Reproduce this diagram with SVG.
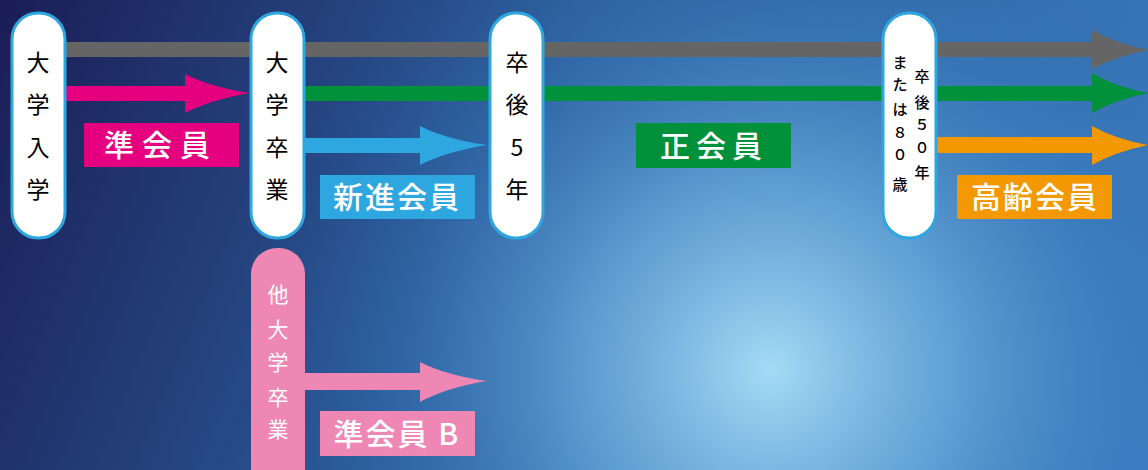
<svg xmlns="http://www.w3.org/2000/svg" width="1148" height="470" viewBox="0 0 1148 470">
<defs>
<linearGradient id="bgLin" x1="0" y1="0" x2="1148" y2="470" gradientUnits="userSpaceOnUse">
<stop offset="0" stop-color="#1b1d55"/>
<stop offset="0.45" stop-color="#2b5e9c"/>
<stop offset="1" stop-color="#3b7cbf"/>
</linearGradient>
<radialGradient id="bgRad" cx="770" cy="370" r="520" gradientUnits="userSpaceOnUse">
<stop offset="0" stop-color="#a4dbf5" stop-opacity="1"/>
<stop offset="0.35" stop-color="#6fb0e0" stop-opacity="0.75"/>
<stop offset="0.7" stop-color="#3f84c6" stop-opacity="0.3"/>
<stop offset="1" stop-color="#2e6aab" stop-opacity="0"/>
</radialGradient>
<style>
.pill{fill:#ffffff;stroke:#2ea7e0;stroke-width:3}
.pt{font-family:"Noto Sans CJK JP","Noto Sans",sans-serif;font-size:23px;font-weight:400;fill:#000000;text-anchor:middle}
.pts{font-family:"Noto Sans CJK JP","Noto Sans",sans-serif;font-size:15px;font-weight:500;fill:#000000;text-anchor:middle}
.lt{font-family:"Noto Sans CJK JP","Noto Sans",sans-serif;font-size:30px;font-weight:500;fill:#ffffff;text-anchor:middle}
</style>
</defs>
<rect width="1148" height="470" fill="url(#bgLin)"/>
<rect width="1148" height="470" fill="url(#bgRad)"/>

<g id="connectors">
<path d="M65,42 H1092 V30 Q1115,43 1148,50 Q1115,57 1092,69 V57 H65 Z" fill="#666565"/>
<path d="M65,86 H185 V74 Q210,87 250,93 Q210,100 185,113 V101 H65 Z" fill="#e4007f"/>
<path d="M304,86 H1092 V73 Q1115,87 1148,93 Q1115,100 1092,113 V101 H304 Z" fill="#00913a"/>
<path d="M304,138 H420 V126 Q445,139 487,145 Q445,152 420,165 V153 H304 Z" fill="#2ea7e0"/>
<path d="M936,137 H1092 V126 Q1115,139 1148,145 Q1115,152 1092,165 V153 H936 Z" fill="#f39800"/>
<path d="M305,373 H420 V362 Q445,375 487,381 Q445,388 420,402 V390 H305 Z" fill="#ee87b4"/>
</g>

<g id="node-nyugaku">
<rect class="pill" x="12" y="13" width="53" height="225" rx="26"/>
<text class="pt"><tspan x="38" y="71">大</tspan><tspan x="38" y="113">学</tspan><tspan x="38" y="156">入</tspan><tspan x="38" y="198">学</tspan></text>
</g>

<g id="node-sotsugyo">
<rect class="pill" x="251" y="13" width="53" height="225" rx="26"/>
<text class="pt"><tspan x="277" y="71">大</tspan><tspan x="277" y="113">学</tspan><tspan x="277" y="156">卒</tspan><tspan x="277" y="198">業</tspan></text>
</g>

<g id="node-5nen">
<rect class="pill" x="490" y="13" width="53" height="225" rx="26"/>
<text class="pt"><tspan x="517" y="71">卒</tspan><tspan x="517" y="113">後</tspan><tspan x="517" y="156">5</tspan><tspan x="517" y="198">年</tspan></text>
</g>

<g id="node-50nen">
<rect class="pill" x="883" y="13" width="53" height="225" rx="26"/>
<text class="pts"><tspan x="922" y="82">卒</tspan><tspan x="922" y="108">後</tspan><tspan x="922" y="130">５</tspan><tspan x="922" y="153">０</tspan><tspan x="922" y="178">年</tspan></text>
<text class="pts"><tspan x="900" y="68">ま</tspan><tspan x="900" y="90">た</tspan><tspan x="900" y="115">は</tspan><tspan x="900" y="138">８</tspan><tspan x="900" y="160">０</tspan><tspan x="900" y="190">歳</tspan></text>
</g>

<g id="node-tadaigaku">
<rect x="251" y="248" width="54" height="250" rx="26" fill="#ee87b4"/>
<text class="pt" style="fill:#ffffff;font-size:21px"><tspan x="278" y="302">他</tspan><tspan x="278" y="337">大</tspan><tspan x="278" y="370">学</tspan><tspan x="278" y="405">卒</tspan><tspan x="278" y="437">業</tspan></text>
</g>

<g id="label-junkaiin">
<rect x="84" y="123" width="155" height="44" fill="#e4007f"/>
<text class="lt" x="161" y="156" letter-spacing="8">準会員</text>
</g>

<g id="label-shinshin">
<rect x="320" y="175" width="155" height="44" fill="#2ea7e0"/>
<text class="lt" x="397" y="208" letter-spacing="2">新進会員</text>
</g>

<g id="label-seikaiin">
<rect x="636" y="123" width="155" height="45" fill="#00913a"/>
<text class="lt" x="714" y="157" letter-spacing="6">正会員</text>
</g>

<g id="label-koreikaiin">
<rect x="957" y="175" width="155" height="44" fill="#f39800"/>
<text class="lt" x="1035" y="208" letter-spacing="2">高齢会員</text>
</g>

<g id="label-junkaiinB">
<rect x="320" y="411" width="155" height="45" fill="#ee87b4"/>
<text class="lt" x="397" y="445" letter-spacing="2">準会員 B</text>
</g>
</svg>
